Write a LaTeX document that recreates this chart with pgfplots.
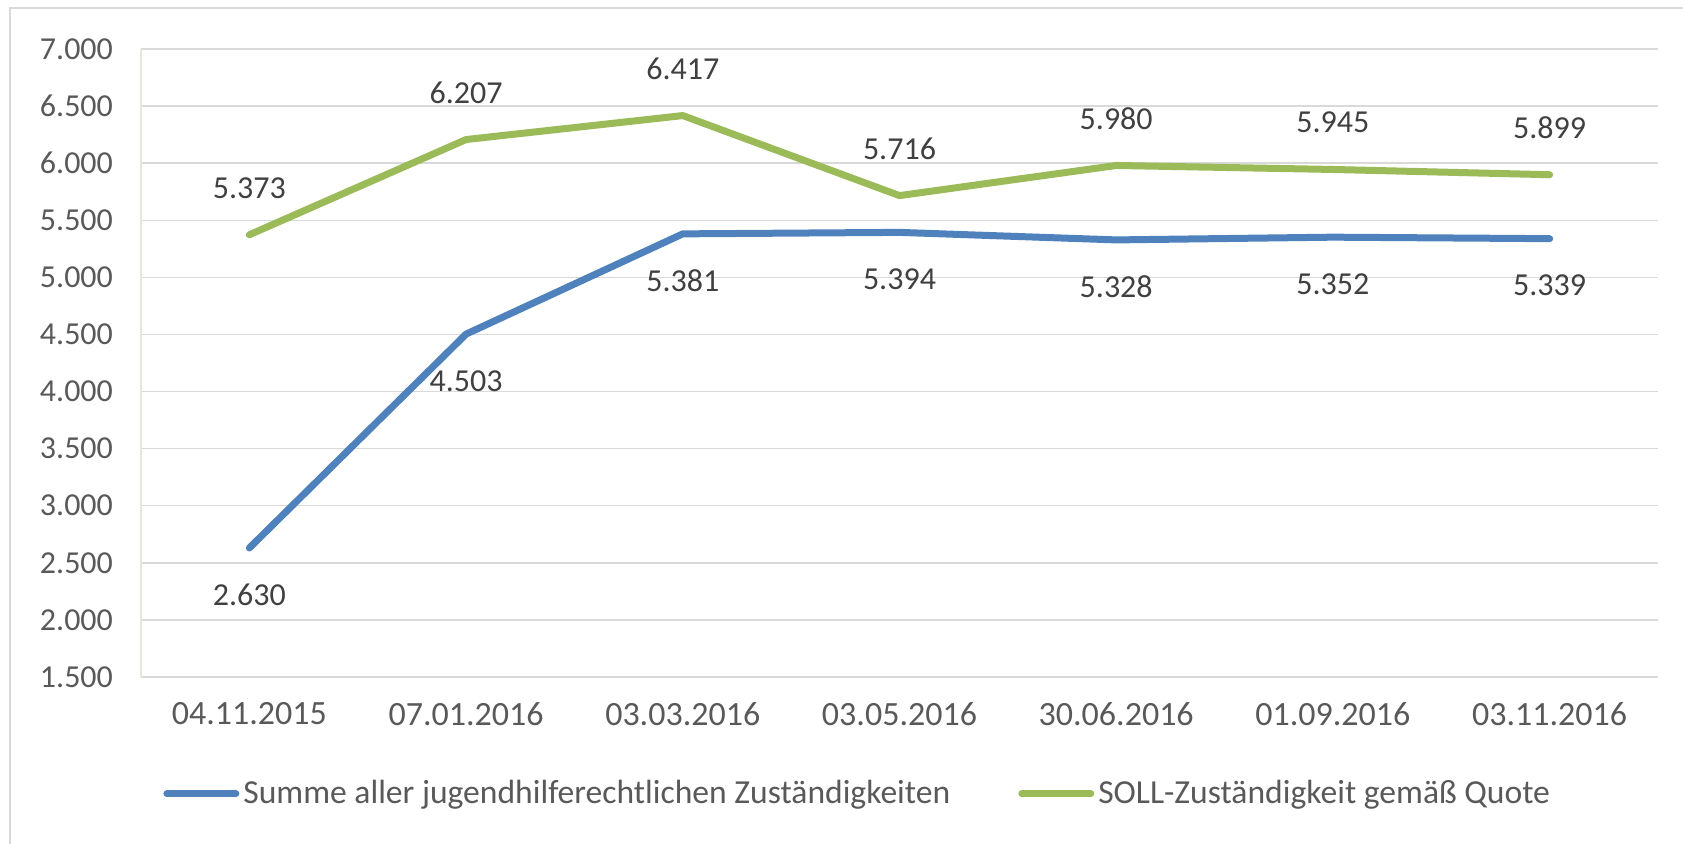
\documentclass[border=0pt]{standalone}
\usepackage{fontspec}
\setmainfont{Carlito}
\usepackage{pgfplots}
\pgfplotsset{compat=1.18}
\definecolor{blueline}{HTML}{4F81BD}
\definecolor{greenline}{HTML}{9BBB59}
\definecolor{gridgray}{HTML}{D9D9D9}
\definecolor{faintaxis}{HTML}{E6E6DC}
\definecolor{txt}{HTML}{595959}
\definecolor{lbl}{HTML}{404040}
\newcommand{\chartfont}{\fontsize{16}{19.2}\selectfont}
\newcommand{\xfont}{\fontsize{17}{20.4}\selectfont}
\newcommand{\legfont}{\fontsize{16.8}{20}\selectfont}
\begin{document}
\begin{tikzpicture}
\path[use as bounding box] (0,0) rectangle (841.5pt,421.5pt);
\draw[gridgray, line width=0.75pt] (5pt,-5pt) -- (5pt,417.5pt) -- (850pt,417.5pt);
\begin{axis}[
  at={(70.5pt,83pt)}, anchor=south west,
  scale only axis, width=758.5pt, height=314pt,
  xmin=-0.5, xmax=6.5, ymin=1500, ymax=7000,
  xtick={0,...,6},
  xticklabels={04.11.2015,07.01.2016,03.03.2016,03.05.2016,30.06.2016,01.09.2016,03.11.2016},
  ytick={1500,2000,...,7000},
  /pgf/number format/.cd, fixed, precision=0, 1000 sep={.}, assume math mode=true,
  /pgfplots/.cd,
  axis x line*=bottom, axis y line*=left,
  x axis line style={draw=gridgray, line width=0.75pt, -},
  y axis line style={draw=faintaxis, line width=0.75pt, -},
  ymajorgrids, grid style={draw=gridgray, line width=0.75pt},
  xtick style={draw=none}, ytick style={draw=none},
  extra x ticks={-0.5,0.5,...,6.5},
  extra x tick labels={},
  extra x tick style={grid=none, tick style={draw=gridgray, line width=0.75pt}, major tick length=4.5pt, tick align=outside},
  tick label style={font=\chartfont, text=txt},
  xticklabel style={font=\xfont, yshift=-9pt},
  yticklabel style={xshift=-10.5pt},
  legend columns=2,
  legend style={at={(axis description cs:0.0145,-0.186)}, anchor=west, draw=none, fill=none,
    font=\legfont, text=txt, inner sep=0pt, nodes={inner sep=2pt},
    /tikz/every even column/.append style={column sep=32pt}},
  legend image code/.code={\draw[#1, line width=3.5pt, line cap=round] (1.5pt,0pt) -- (36pt,0pt);},
  every node near coord/.append style={font=\chartfont, text=lbl, anchor=center},
]
\addplot[blueline, line width=3.5pt, line join=round, line cap=round,
  nodes near coords, every node near coord/.append style={yshift=-23.5pt}]
  coordinates {(0,2630) (1,4503) (2,5381) (3,5394) (4,5328) (5,5352) (6,5339)};
\addlegendentry{Summe aller jugendhilferechtlichen Zuständigkeiten}
\addplot[greenline, line width=3.5pt, line join=round, line cap=round,
  nodes near coords, every node near coord/.append style={yshift=23.5pt}]
  coordinates {(0,5373) (1,6207) (2,6417) (3,5716) (4,5980) (5,5945) (6,5899)};
\addlegendentry{SOLL-Zuständigkeit gemäß Quote}
\end{axis}
\end{tikzpicture}
\end{document}
